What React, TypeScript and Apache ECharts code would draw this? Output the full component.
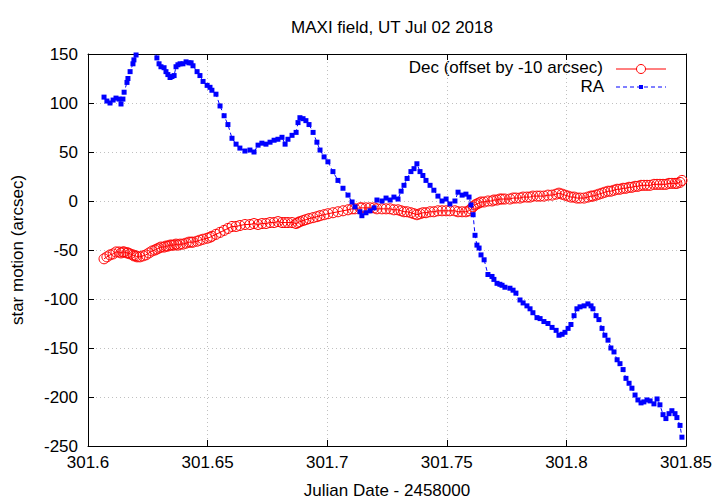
import React, { useEffect, useRef } from "react";
import * as echarts from "echarts";

const titleText = "MAXI field, UT Jul 02 2018";
const xAxisName = "Julian Date - 2458000";
const yAxisName = "star motion (arcsec)";
const decName = "Dec (offset by -10 arcsec)";
const raName = "RA";

const xTicks = [301.6, 301.65, 301.7, 301.75, 301.8, 301.85];
const yTicks = [-250, -200, -150, -100, -50, 0, 50, 100, 150];

const times = [
  301.6067, 301.6079, 301.6092, 301.6105, 301.6117, 301.613, 301.6138, 301.6146, 301.6151, 301.6163,
  301.6167, 301.6176, 301.6188, 301.6192, 301.6201, 301.6205, 301.6217, 301.623, 301.6242, 301.6255,
  301.6268, 301.628, 301.6288, 301.6297, 301.6305, 301.6318, 301.6326, 301.6334, 301.6343, 301.6351,
  301.636, 301.6368, 301.6376, 301.6385, 301.6397, 301.641, 301.6422, 301.6431, 301.6439, 301.6456,
  301.6468, 301.6481, 301.6498, 301.651, 301.6518, 301.6535, 301.6552, 301.6569, 301.6585, 301.6602,
  301.6619, 301.6635, 301.6656, 301.6677, 301.6694, 301.6711, 301.6727, 301.6744, 301.6761, 301.6778,
  301.6794, 301.6811, 301.6824, 301.6836, 301.6853, 301.687, 301.6878, 301.6886, 301.6899, 301.6911,
  301.6924, 301.6941, 301.6957, 301.697, 301.6987, 301.7003, 301.7024, 301.7045, 301.7066, 301.7087,
  301.7104, 301.7116, 301.7137, 301.7145, 301.7162, 301.7179, 301.7196, 301.7208, 301.7229, 301.7246,
  301.7263, 301.7279, 301.7296, 301.7309, 301.7321, 301.7334, 301.735, 301.7363, 301.7375, 301.7388,
  301.74, 301.7413, 301.743, 301.7446, 301.7463, 301.748, 301.7497, 301.7513, 301.7534, 301.7547,
  301.7564, 301.758, 301.7593, 301.7601, 301.761, 301.7618, 301.7626, 301.7635, 301.7643, 301.7656,
  301.7672, 301.7689, 301.7697, 301.771, 301.7722, 301.7731, 301.7743, 301.7764, 301.7777, 301.7789,
  301.7806, 301.7819, 301.7835, 301.7848, 301.786, 301.7877, 301.789, 301.7906, 301.7923, 301.794,
  301.7957, 301.7969, 301.7982, 301.7994, 301.8007, 301.8019, 301.8032, 301.8044, 301.8057, 301.8074,
  301.809, 301.8103, 301.8111, 301.8124, 301.8136, 301.8149, 301.8161, 301.8174, 301.8186, 301.8199,
  301.8212, 301.8224, 301.8237, 301.8249, 301.8262, 301.8274, 301.8287, 301.8299, 301.8312, 301.8324,
  301.8337, 301.835, 301.8366, 301.8379, 301.8391, 301.8404, 301.8416, 301.8429, 301.8441, 301.8454,
  301.8462, 301.8475, 301.8483,
];

const raValues = [
  106, 102, 100, 103, 105, 104, 99, 104, 111, 121,
  125, 132, 140, 144, 149, 154, 160, 168, 172, 170,
  160, 152, 146, 140, 137, 136, 132, 129, 126, 127,
  128, 137, 139, 140, 140, 142, 141, 141, 138, 132,
  128, 122, 118, 116, 113, 109, 97, 87, 78, 64,
  58, 54, 51, 52, 50, 57, 59, 58, 60, 62,
  63, 65, 58, 63, 67, 70, 80, 85, 84, 82,
  78, 70, 60, 52, 45, 40, 30, 21, 13, 6,
  -1, -6, -11, -15, -12, -10, -7, 1, 0, 3,
  1, 4, 2, 10, 16, 23, 30, 33, 38, 30,
  26, 21, 16, 11, 5, 0, 2, -3, 0, 9,
  6, 7, 4, -4, -14, -35, -45, -48, -55, -60,
  -75, -77, -80, -84, -85, -86, -88, -89, -91, -94,
  -101, -104, -107, -110, -114, -119, -120, -123, -125, -129,
  -132, -137, -136, -134, -130, -126, -117, -110, -108, -107,
  -105, -107, -110, -117, -121, -130, -137, -142, -150, -154,
  -162, -166, -172, -181, -186, -191, -198, -203, -206, -205,
  -203, -204, -207, -202, -208, -218, -222, -217, -214, -217,
  -221, -229, -241,
];

const decValues = [
  -59, -57, -55, -54, -52, -52, -53, -52, -52, -53,
  -53, -54, -55, -56, -56, -57, -57, -56, -55, -53,
  -51, -50, -49, -48, -47, -47, -46, -46, -45, -45,
  -45, -44, -45, -44, -44, -43, -42, -42, -42, -41,
  -40, -39, -38, -37, -36, -34, -32, -30, -28, -26,
  -26, -25, -24, -24, -23, -24, -23, -23, -22, -22,
  -21, -22, -22, -22, -22, -23, -22, -21, -20, -19,
  -18, -17, -16, -15, -14, -13, -12, -11, -10, -9,
  -8, -8, -7, -7, -7, -7, -7, -8, -8, -8,
  -8, -9, -9, -10, -11, -11, -12, -13, -14, -13,
  -12, -12, -11, -11, -10, -10, -10, -10, -10, -11,
  -11, -11, -10, -8, -6, -4, -3, -2, -1, -1,
  0, 0, 1, 1, 2, 2, 2, 2, 3, 3,
  3, 4, 4, 4, 5, 5, 5, 5, 6, 6,
  7, 8, 7, 6, 5, 4, 4, 3, 3, 3,
  4, 5, 5, 6, 7, 8, 9, 10, 10, 11,
  12, 12, 13, 13, 14, 14, 15, 15, 16, 16,
  16, 16, 17, 17, 17, 17, 17, 18, 18, 18,
  18, 19, 21,
];

const FONT = '"Liberation Sans", Arial, Helvetica, sans-serif';
const FS = 17;

export default function App() {
  const ref = useRef<HTMLDivElement>(null);
  useEffect(() => {
    if (!ref.current) return;
    const chart = echarts.init(ref.current, null, { renderer: "svg" });
    const xMin = xTicks[0];
    const xMax = xTicks[xTicks.length - 1];
    const xInt = +(xTicks[1] - xTicks[0]).toFixed(4);
    const yMin = yTicks[0];
    const yMax = yTicks[yTicks.length - 1];
    const yInt = yTicks[1] - yTicks[0];
    const fmtX = (v: number) => String(+v.toFixed(2));
    const baseAxisLine = { show: true, onZero: false, lineStyle: { color: "#000", width: 1 } };
    const tick = { show: true, inside: true, length: 6, lineStyle: { color: "#000", width: 1 } };
    const split = { show: true, lineStyle: { color: "#c0c0c0", width: 1, type: [1, 3] as any } };
    const legendX1 = 616;
    const legendX2 = 666;
    const legendMid = 641;
    chart.setOption({
      animation: false,
      backgroundColor: "#fff",
      textStyle: { fontFamily: FONT },
      title: {
        text: titleText,
        left: 387,
        top: 14,
        textAlign: "center",
        textStyle: { fontFamily: FONT, fontSize: FS, fontWeight: "normal", color: "#000" },
      },
      grid: { left: 88, right: 34, top: 54, bottom: 58 },
      xAxis: [
        {
          type: "value",
          min: xMin,
          max: xMax,
          interval: xInt,
          position: "bottom",
          name: xAxisName,
          nameLocation: "middle",
          nameGap: 36,
          nameTextStyle: { fontFamily: FONT, fontSize: FS, color: "#000" },
          axisLine: baseAxisLine,
          axisTick: tick,
          splitLine: split,
          axisLabel: { color: "#000", fontFamily: FONT, fontSize: FS, margin: 8, formatter: fmtX },
        },
        {
          type: "value",
          min: xMin,
          max: xMax,
          interval: xInt,
          position: "top",
          axisLine: baseAxisLine,
          axisTick: tick,
          splitLine: { show: false },
          axisLabel: { show: false },
        },
      ],
      yAxis: [
        {
          type: "value",
          min: yMin,
          max: yMax,
          interval: yInt,
          position: "left",
          name: yAxisName,
          nameLocation: "middle",
          nameGap: 62,
          nameTextStyle: { fontFamily: FONT, fontSize: FS, color: "#000" },
          axisLine: baseAxisLine,
          axisTick: tick,
          splitLine: split,
          axisLabel: { color: "#000", fontFamily: FONT, fontSize: FS, margin: 10 },
        },
        {
          type: "value",
          min: yMin,
          max: yMax,
          interval: yInt,
          position: "right",
          axisLine: baseAxisLine,
          axisTick: tick,
          splitLine: { show: false },
          axisLabel: { show: false },
        },
      ],
      series: [
        {
          name: decName,
          type: "line",
          xAxisIndex: 0,
          yAxisIndex: 0,
          data: times.map((t, i) => [t, decValues[i]]),
          symbol: "circle",
          symbolSize: 10,
          showAllSymbol: true,
          clip: true,
          lineStyle: { color: "#ff0000", width: 1 },
          itemStyle: { color: "rgba(0,0,0,0)", borderColor: "#ff0000", borderWidth: 1 },
        },
        {
          name: raName,
          type: "line",
          xAxisIndex: 0,
          yAxisIndex: 0,
          data: times.map((t, i) => [t, raValues[i]]),
          symbol: "rect",
          symbolSize: 5,
          showAllSymbol: true,
          clip: true,
          lineStyle: { color: "#0000ff", width: 1, type: [4, 3] as any },
          itemStyle: { color: "#0000ff" },
        },
      ],
      graphic: [
        {
          type: "text",
          right: 720 - 603,
          top: 59,
          style: { text: decName, font: `${FS}px ${FONT}`, fill: "#000", textAlign: "right" },
        },
        {
          type: "line",
          shape: { x1: legendX1, y1: 69, x2: legendX2, y2: 69 },
          style: { stroke: "#ff0000", lineWidth: 1 },
        },
        {
          type: "circle",
          shape: { cx: legendMid, cy: 69, r: 4.5 },
          style: { stroke: "#ff0000", fill: "#fff", lineWidth: 1 },
        },
        {
          type: "text",
          right: 720 - 604,
          top: 78,
          style: { text: raName, font: `${FS}px ${FONT}`, fill: "#000", textAlign: "right" },
        },
        {
          type: "line",
          shape: { x1: legendX1, y1: 87, x2: legendX2, y2: 87 },
          style: { stroke: "#0000ff", lineWidth: 1, lineDash: [4, 3] },
        },
        {
          type: "rect",
          shape: { x: legendMid - 2, y: 85, width: 4, height: 4 },
          style: { fill: "#0000ff" },
        },
      ],
    });
    return () => chart.dispose();
  }, []);
  return <div ref={ref} style={{ width: 720, height: 504, position: "absolute", left: 0, top: 0 }} />;
}
